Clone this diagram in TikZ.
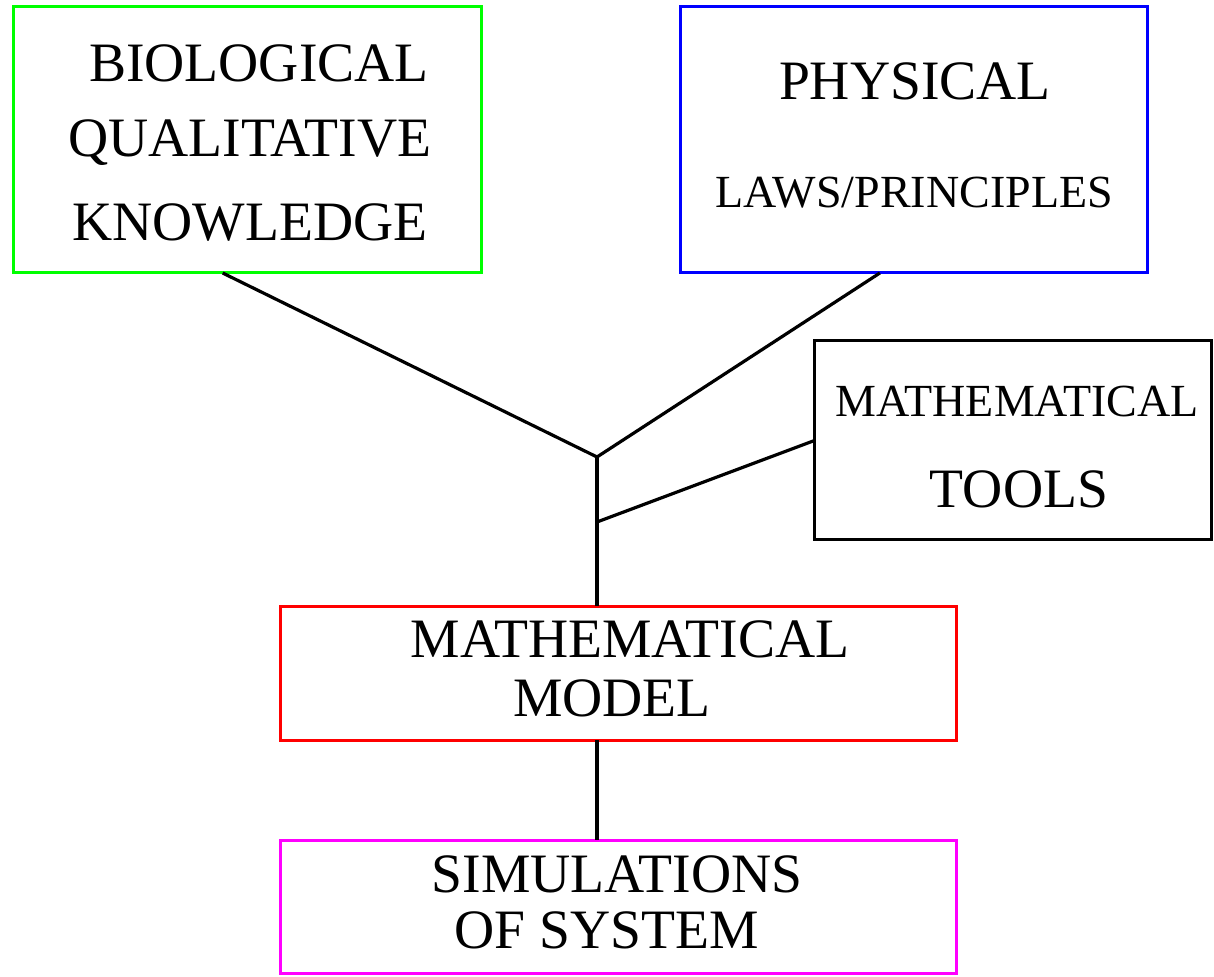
\documentclass[tikz,border=0pt]{standalone}
\usepackage{fontspec}
\setmainfont{Liberation Serif}
\usetikzlibrary{calc}
\definecolor{bgreen}{RGB}{0,255,0}
\definecolor{bblue}{RGB}{0,0,255}
\definecolor{bred}{RGB}{255,0,0}
\definecolor{bmag}{RGB}{255,0,255}
\tikzset{
  box/.style={draw, rectangle, line width=1.5pt, inner sep=0pt, outer sep=0pt},
  big/.style={anchor=base, inner sep=0pt, font=\fontsize{27.8}{30}\selectfont},
  small/.style={anchor=base, inner sep=0pt, font=\fontsize{23}{26}\selectfont},
  conn/.style={line width=1.6pt}
}
\begin{document}
\begin{tikzpicture}[x=0.5pt, y=-0.5pt]
\useasboundingbox (0,0) rectangle (1214,977);
% boxes
\node[box, draw=bgreen, minimum width=234pt, minimum height=133pt] (bio) at (247,140) {};
\node[box, draw=bblue, minimum width=233.5pt, minimum height=133pt] (phys) at (913.5,140) {};
\node[box, draw=black, minimum width=198.5pt, minimum height=99.5pt] (tools) at (1013,440.5) {};
\node[box, draw=bred, minimum width=338pt, minimum height=67pt] (model) at (618,673) {};
\node[box, draw=bmag, minimum width=338pt, minimum height=66.5pt] (sim) at (618,906.5) {};
% texts
\node[big] (t1) at (259,82) {BIOLOGICAL};
\node[big] (t2) at (250,157) {QUALITATIVE};
\node[big] (t3) at (250,241) {KNOWLEDGE};
\node[big] (t4) at (915,100) {PHYSICAL};
\node[small] (t5) at (914,208) {LAWS/PRINCIPLES};
\node[small] (t6) at (1017,417) {MATHEMATICAL};
\node[big] (t7) at (1019,508) {TOOLS};
\node[big] (t8) at (630,657) {MATHEMATICAL};
\node[big] (t9) at (612,716) {MODEL};
\node[big] (t10) at (617,892) {SIMULATIONS};
\node[big] (t11) at (607,948) {OF SYSTEM};
% junctions
\coordinate (j1) at (597,457);
\coordinate (j2) at (597,522);
% connectors
\draw[conn] ($(bio.south west)!0.448!(bio.south east)$) -- (j1);
\draw[conn] ($(phys.south west)!0.428!(phys.south east)$) -- (j1);
\draw[conn] (j1) -- (model.north -| j1);
\draw[conn] (tools.west) -- (j2);
\draw[conn] (model.south -| j1) -- (sim.north -| j1);
\end{tikzpicture}
\end{document}
